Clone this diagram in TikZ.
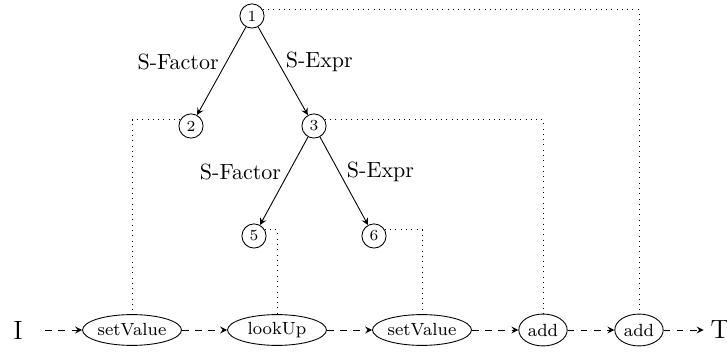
\documentclass[tikz,border=0pt]{standalone}
\usetikzlibrary{shapes.geometric,arrows}
\begin{document}
\begin{tikzpicture}[x=0.4545pt,y=-0.4545pt,
  tnode/.style={circle,draw,inner sep=0pt,minimum size=11pt,font=\scriptsize},
  opbig/.style={ellipse,draw,inner sep=0pt,minimum width=45pt,minimum height=14pt,font=\footnotesize},
  opsmall/.style={ellipse,draw,inner sep=0pt,minimum width=22pt,minimum height=14.5pt,font=\footnotesize},
  endtext/.style={font=\large,inner sep=3pt},
  treeedge/.style={-stealth},
  flow/.style={dashed,-stealth},
  link/.style={dotted}]
\useasboundingbox (0,0) rectangle (727,354);
% tree nodes
\node[tnode] (n1) at (252,16) {1};
\node[tnode] (n2) at (191,126) {2};
\node[tnode] (n3) at (314,126) {3};
\node[tnode] (n5) at (254,236) {5};
\node[tnode] (n6) at (374,236) {6};
% bottom chain
\node[endtext] (I) at (18,330) {I};
\node[opbig] (sv1) at (132,330) {setValue};
\node[opbig] (lu) at (277,330) {lookUp};
\node[opbig] (sv2) at (422,330) {setValue};
\node[opsmall] (a1) at (543,330) {add};
\node[opsmall] (a2) at (639,330) {add};
\node[endtext] (T) at (720,330) {T};
% tree edges
\draw[treeedge] (n1) -- node[pos=0.4,left] {S-Factor} (n2);
\draw[treeedge] (n1) -- node[pos=0.4,right] {S-Expr} (n3);
\draw[treeedge] (n3) -- node[pos=0.4,left] {S-Factor} (n5);
\draw[treeedge] (n3) -- node[pos=0.4,right] {S-Expr} (n6);
% flow
\draw[flow,shorten <=7pt] (I) -- (sv1);
\draw[flow] (sv1) -- (lu);
\draw[flow] (lu) -- (sv2);
\draw[flow] (sv2) -- (a1);
\draw[flow] (a1) -- (a2);
\draw[flow] (a2) -- (T);
% dotted links
\draw[link] (n1.30) -| (a2.north);
\draw[link] (n2.150) -| (sv1.north);
\draw[link] (n3.30) -| (a1.north);
\draw[link] (n5.30) -| (lu.north);
\draw[link] (n6.30) -| (sv2.north);
\end{tikzpicture}
\end{document}
